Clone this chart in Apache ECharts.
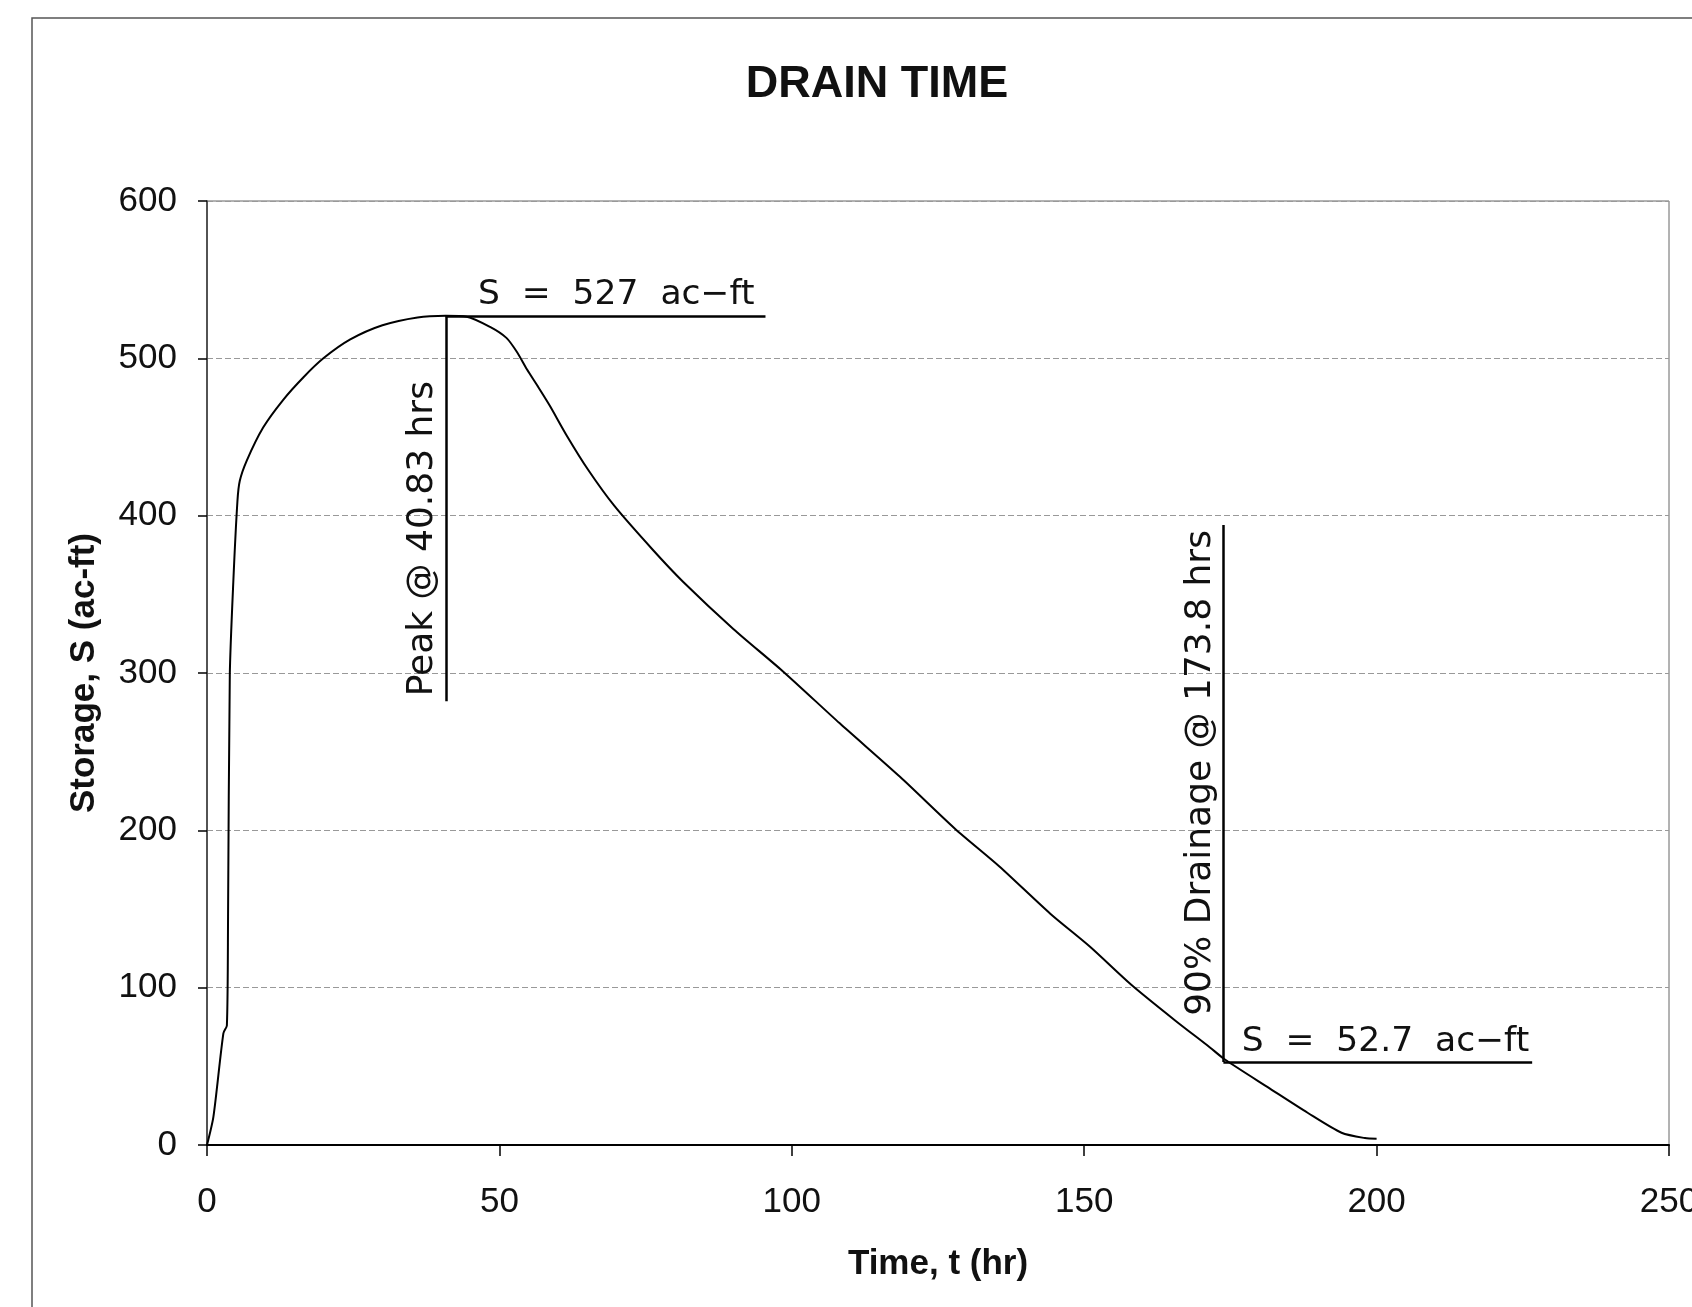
<!DOCTYPE html>
<html>
<head>
<meta charset="utf-8">
<script src="https://cdn.jsdelivr.net/npm/echarts@6/dist/echarts.min.js"></script>
<style>
  html, body { margin: 0; padding: 0; background: #fff; }
  #myCharts { width: 1692px; height: 1307px; }
</style>
</head>
<body>
<div id="myCharts"></div>
<script>
  // storage curve: time (hr), storage (ac-ft)
  var times = [0, 1.1, 2.8, 3.4, 3.6, 3.9, 4.5, 5.2, 5.6, 6.8, 9.6, 13, 16.5, 19.9, 24.5, 30, 36, 40.83,
    44.4, 48.4, 51.2, 53, 54.7, 56.6, 58.6, 61.5, 65.2, 69.7, 76.3, 81.4, 90, 98.5, 108.2, 118.5, 127.9,
    135.5, 144.2, 151, 158, 165.6, 171.5, 174, 181.7, 188.2, 194, 198, 200];
  var storage = [0, 18, 71, 76, 145, 299, 358, 409, 422, 435, 456, 473.5, 488, 500, 512, 521, 526, 527,
    526.5, 520, 513, 504, 493, 482, 470, 451, 429, 406, 378, 358, 328, 301, 268, 234, 201,
    177, 147, 126, 102, 79, 62, 54.5, 36, 20.5, 7.8, 4.4, 4];

  var xTicks = [0, 50, 100, 150, 200, 250];
  var yTicks = [0, 100, 200, 300, 400, 500, 600];

  // annotations
  var peakT = 40.83, peakS = 527;
  var peakLineBottom = 282, peakLineRight = 95.5;
  var drainT = 173.8, drainS = 52.7;
  var drainLineTop = 394, drainLineRight = 226.6;

  var points = times.map(function (t, i) { return [t, storage[i]]; });

  var vFont = { fontFamily: 'DejaVu Sans', fontSize: 36, color: '#111' };
  var hFont = { fontFamily: 'DejaVu Sans', fontSize: 34.5, color: '#111' };

  var myCharts = echarts.init(document.getElementById('myCharts'));
  var options = {
    backgroundColor: '#fff',
    animation: false,
    title: {
      text: 'DRAIN TIME',
      left: 872,
      textAlign: 'center',
      top: 57,
      textStyle: { fontFamily: 'Liberation Sans', fontWeight: 'bold', fontSize: 45, color: '#111' }
    },
    graphic: [{
      type: 'rect',
      shape: { x: 32, y: 18, width: 1720, height: 1340 },
      style: { fill: 'none', stroke: '#555', lineWidth: 1.5 },
      silent: true
    }],
    grid: {
      left: 207, right: 23, top: 201, bottom: 162,
      containLabel: false,
      outerBoundsMode: 'none',
      show: true, borderColor: '#666', borderWidth: 1
    },
    xAxis: {
      type: 'value',
      min: xTicks[0], max: xTicks[xTicks.length - 1], interval: 50,
      name: 'Time, t (hr)',
      nameLocation: 'middle',
      nameGap: 102,
      nameTextStyle: { fontFamily: 'Liberation Sans', fontWeight: 'bold', fontSize: 35, color: '#111' },
      axisLine: { lineStyle: { color: '#000', width: 2 } },
      axisTick: { show: true, length: 11, lineStyle: { color: '#000', width: 1.5 } },
      axisLabel: { margin: 40, fontFamily: 'Liberation Sans', fontSize: 35, color: '#111' },
      splitLine: { show: false }
    },
    yAxis: {
      type: 'value',
      min: yTicks[0], max: yTicks[yTicks.length - 1], interval: 100,
      name: 'Storage, S (ac-ft)',
      nameLocation: 'middle',
      nameGap: 105,
      nameTextStyle: { fontFamily: 'Liberation Sans', fontWeight: 'bold', fontSize: 35, color: '#111' },
      axisLine: { show: true, lineStyle: { color: '#333', width: 1.5 } },
      axisTick: { show: true, length: 9, lineStyle: { color: '#000', width: 1.5 } },
      axisLabel: { margin: 30, fontFamily: 'Liberation Sans', fontSize: 35, color: '#111' },
      splitLine: { show: true, lineStyle: { color: '#999', width: 1, type: [6, 3] } }
    },
    series: [{
      name: 'Storage',
      type: 'line',
      data: points,
      showSymbol: false,
      smooth: 0.25,
      lineStyle: { color: '#000', width: 2 },
      markLine: {
        silent: true,
        symbol: ['none', 'none'],
        lineStyle: { color: '#000', width: 2.5, type: 'solid' },
        data: [
          [{ coord: [peakT, peakLineBottom],
             label: Object.assign({ show: true, position: 'insideStartTop', distance: 5,
               formatter: 'Peak @ 40.83 hrs' }, vFont) },
           { coord: [peakT, peakS] }],
          [{ coord: [peakT, peakS],
             label: Object.assign({ show: true, position: 'insideEndTop', distance: [11, 3],
               formatter: 'S  =  527  ac\u2212ft' }, hFont) },
           { coord: [peakLineRight, peakS] }],
          [{ coord: [drainT, drainS],
             label: Object.assign({ show: true, position: 'insideEndTop', distance: 5,
               formatter: '90% Drainage @ 173.8 hrs' }, vFont) },
           { coord: [drainT, drainLineTop] }],
          [{ coord: [drainT, drainS],
             label: Object.assign({ show: true, position: 'insideEndTop', distance: [3, 3],
               formatter: 'S  =  52.7  ac\u2212ft' }, hFont) },
           { coord: [drainLineRight, drainS] }]
        ]
      }
    }]
  };
  myCharts.setOption(options);
</script>
</body>
</html>
